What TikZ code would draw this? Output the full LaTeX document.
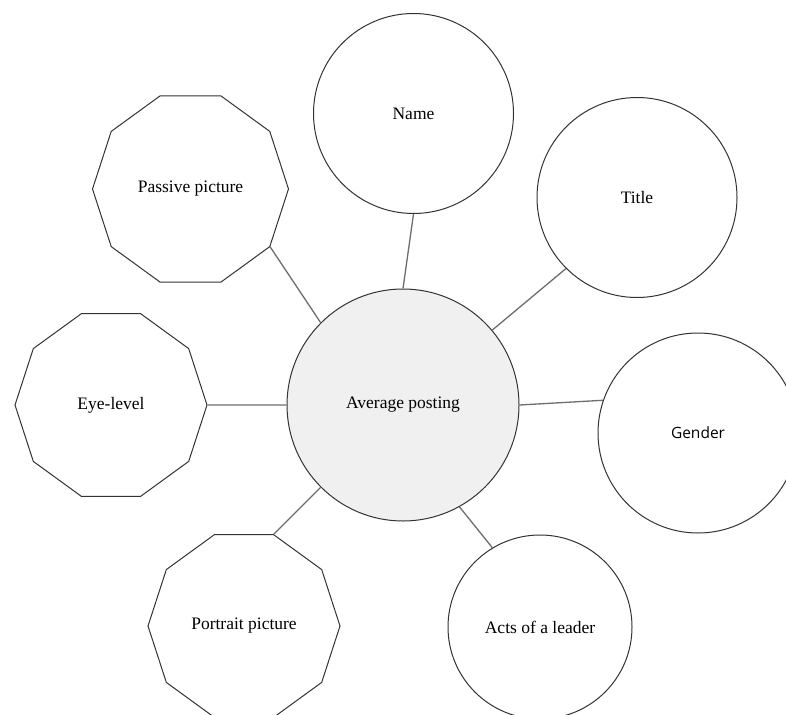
\documentclass[tikz,border=0pt]{standalone}
\usepackage{fontspec}
\setmainfont{Liberation Serif}
\newfontfamily\gendersans{Open Sans}
\usetikzlibrary{shapes.geometric}
\definecolor{shapeline}{HTML}{333333}
\definecolor{linkgray}{HTML}{6E6E6E}
\definecolor{centerfill}{HTML}{F0F0F0}
\begin{document}
\begin{tikzpicture}[x=1pt,y=-1pt,
  bubble/.style={circle, draw=shapeline, line width=1pt, fill=white, inner sep=0pt,
    font=\fontsize{17.5}{20}\selectfont},
  deca/.style={regular polygon, regular polygon sides=10, draw=shapeline, line width=1pt,
    fill=white, inner sep=0pt, font=\fontsize{17.5}{20}\selectfont},
  link/.style={draw=linkgray, line width=1.3pt}]
\clip (0,0) rectangle (786,714);
\fill[white] (0,0) rectangle (786,714);
\node[bubble, fill=centerfill, minimum size=232pt] (center) at (403,405) {Average posting};
\node[bubble, minimum size=200pt] (name) at (413.5,113.5) {Name};
\node[bubble, minimum size=200pt] (title) at (637,197.5) {Title};
\node[bubble, minimum size=200pt, font=\gendersans\fontsize{15.5}{18}\selectfont] (gender) at (698,433) {Gender};
\node[bubble, minimum size=184pt] (acts) at (540,627) {Acts of a leader};
\node[deca, minimum size=196pt] (passive) at (190.5,189) {Passive picture};
\node[deca, minimum size=192pt] (eye) at (111,405) {Eye-level};
\node[deca, minimum size=192pt] (portrait) at (244,626) {Portrait picture};
\draw[link] (name.south) -- (center.north);
\draw[link] (title.south west) -- (center.40);
\draw[link] (gender.161) -- (center.east);
\draw[link] (acts.121) -- (center.-61);
\draw[link] (portrait.72) -- (center.south west);
\draw[link] (eye.east) -- (center.west);
\draw[link] (passive.-36) -- (center.north west);
\end{tikzpicture}
\end{document}
